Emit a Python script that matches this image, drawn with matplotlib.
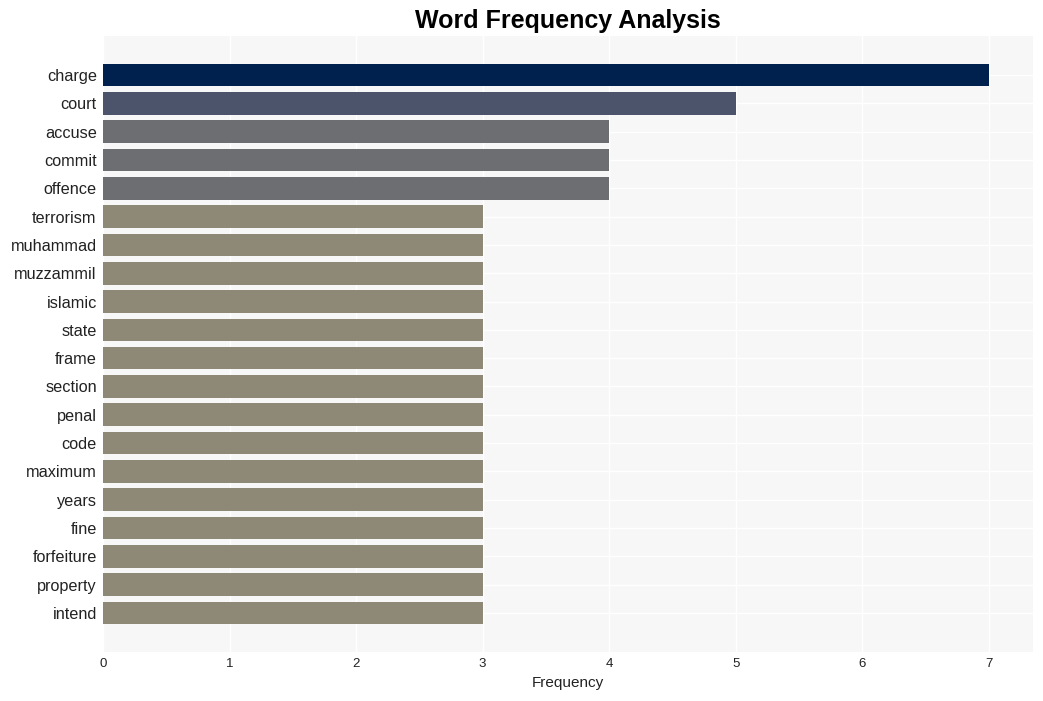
import matplotlib
matplotlib.use("Agg")
import matplotlib.pyplot as plt

plt.rcParams['font.family'] = ['Liberation Sans', 'DejaVu Sans']

words = ["charge", "court", "accuse", "commit", "offence", "terrorism", "muhammad",
         "muzzammil", "islamic", "state", "frame", "section", "penal", "code",
         "maximum", "years", "fine", "forfeiture", "property", "intend"]
counts = [7, 5, 4, 4, 4, 3, 3, 3, 3, 3, 3, 3, 3, 3, 3, 3, 3, 3, 3, 3]
palette = {7: "#00204d", 5: "#4c546c", 4: "#6d6e72", 3: "#8e8977"}

fig = plt.figure(figsize=(10.43, 7.01), dpi=100)
ax = fig.add_axes([103 / 1043, 1 - 652 / 701, 930 / 1043, 616 / 701])
ax.set_facecolor("#f7f7f7")

ypos = list(range(len(words)))
ax.barh(ypos, counts, height=0.8, color=[palette[c] for c in counts], zorder=2)

ax.set_yticks(ypos)
ax.set_yticklabels(words, fontsize=11.7, color="#222222")
ax.set_ylim(len(words) - 1 + 1.38, -1.38)
ax.set_xlim(0, 7.35)
ax.set_xticks(range(8))
ax.tick_params(axis="x", labelsize=9.5, length=0, pad=4, labelcolor="#222222")
ax.tick_params(axis="y", length=0, pad=4.5)
ax.grid(True, color="white", linewidth=1, zorder=1)
for s in ax.spines.values():
    s.set_visible(False)

ax.set_xlabel("Frequency", fontsize=11, color="#222222", labelpad=5)
ax.set_title("Word Frequency Analysis", fontsize=18, fontweight="bold", pad=6)

plt.savefig("out.png", dpi=100)
